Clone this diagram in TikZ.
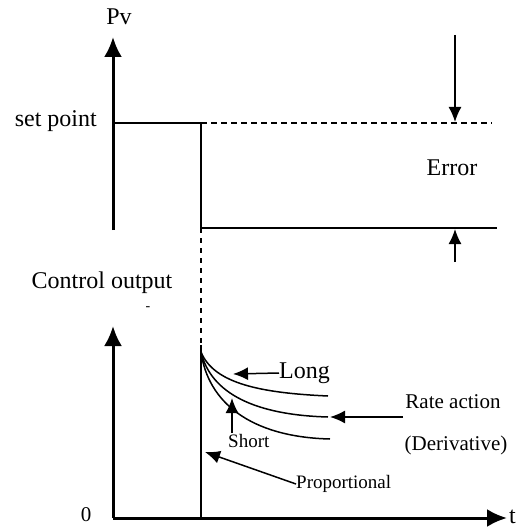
\documentclass[tikz,border=0pt]{standalone}
\usepackage{fontspec}
\setmainfont{Liberation Serif}
\usetikzlibrary{arrows.meta}

\tikzset{
  axis/.style={line width=3pt,-{Latex[length=20pt,width=18pt]}},
  sig/.style={line width=1.8pt},
  brk/.style={line width=1.8pt,dash pattern=on 6pt off 4pt},
  resp/.style={line width=1.5pt},
  tag/.style={line width=1.5pt,-{Latex[length=15pt,width=13pt]}},
  bigtxt/.style={inner sep=0pt,font=\fontsize{24}{26}\selectfont},
  midtxt/.style={inner sep=0pt,font=\fontsize{21}{23}\selectfont},
  smalltxt/.style={inner sep=0pt,font=\fontsize{19}{21}\selectfont}
}

\begin{document}
\begin{tikzpicture}[x=1pt,y=-1pt]
\useasboundingbox (0,0) rectangle (519,532);
% upper graph
\coordinate (pvbase) at (113,230);
\coordinate (pvtop) at (113,37);
\draw[axis] (pvbase) to (pvtop);
\node[bigtxt] (pv) at (119,17) {Pv};
\node[bigtxt,anchor=east] (setpt) at (97,121) {set point};
\coordinate (sp0) at (113,123);
\coordinate (sp1) at (201,123);
\coordinate (sp2) at (492,123);
\coordinate (lo1) at (201,228);
\coordinate (lo2) at (497,228);
\draw[sig] (sp0) to (sp1) to (lo1) to (lo2);
\draw[brk] (sp1) to (sp2);
\coordinate (ea0) at (455,35);\coordinate (ea1) at (455,122);
\draw[tag] (ea0) to (ea1);
\coordinate (eb0) at (455,262);\coordinate (eb1) at (455,229);
\draw[tag] (eb0) to (eb1);
\node[bigtxt] (err) at (452,168) {Error};
% lower graph
\node[bigtxt] (ctrl) at (102,283) {Control output};
\node[inner sep=0pt,font=\fontsize{14}{14}\selectfont] (dash) at (148,309) {-};
\coordinate (cobase) at (113,518);
\coordinate (cotop) at (113,326);
\coordinate (tend) at (507,518);
\draw[axis] (cobase) to (cotop);
\draw[axis] (cobase) to (tend);
\node[bigtxt,anchor=west] (tlab) at (509,517) {t};
\node[midtxt] (zero) at (86,515) {0};
\coordinate (step) at (201,345);
\coordinate (stepbase) at (201,518);
\draw[line width=1.5pt,dash pattern=on 5pt off 5pt] (lo1) to (step);
\draw[sig] (step) to (stepbase);
\coordinate (c0) at (201,352);
\coordinate (clong) at (328,396);
\coordinate (cmid) at (328,417);
\coordinate (cshort) at (330,439);
\draw[resp] (c0) .. controls (214,384) and (262,393) .. (clong);
\draw[resp] (c0) .. controls (211,394) and (256,415) .. (cmid);
\draw[resp] (c0) .. controls (208,402) and (250,437) .. (cshort);
\node[bigtxt,anchor=west] (long) at (279,373) {Long};
\coordinate (lt) at (233,374);
\draw[tag] (long.west) to (lt);
\node[midtxt] (rate) at (453,402) {Rate action};
\node[midtxt] (deriv) at (456,445) {(Derivative)};
\coordinate (r0) at (403,417);\coordinate (r1) at (330,417);
\draw[tag] (r0) to (r1);
\node[smalltxt,anchor=west] (short) at (228,441) {Short};
\coordinate (s0) at (232,433);\coordinate (s1) at (232,398);
\draw[tag] (s0) to (s1);
\node[smalltxt,anchor=west] (prop) at (296,484) {Proportional};
\coordinate (p1) at (205,452);
\draw[tag] (prop.west) to (p1);
\end{tikzpicture}
\end{document}
